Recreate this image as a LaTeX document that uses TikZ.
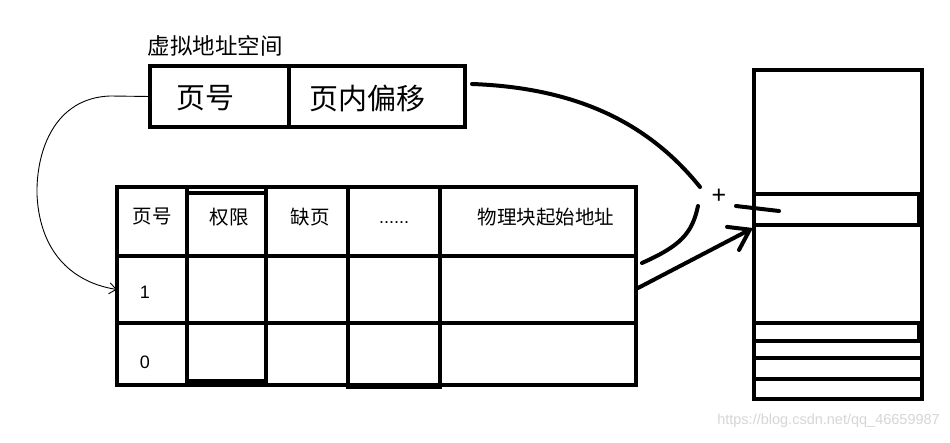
\documentclass[tikz,border=0pt]{standalone}
\usepackage{fontspec}
\newfontfamily\cjk{Noto Sans CJK SC}
\newfontfamily\arialf{Liberation Sans}
\usetikzlibrary{arrows.meta}
\definecolor{wmgrey}{HTML}{D6D6D6}
\tikzset{
  cellbox/.style={draw=black, line width=4pt, inner sep=0pt, outer sep=0pt, fill=none},
  bigtext/.style={font=\cjk\fontsize{29}{31}\selectfont, inner sep=0pt},
  hdrtext/.style={font=\cjk\fontsize{19.5}{21}\selectfont, inner sep=0pt},
  numtext/.style={font=\arialf\fontsize{18}{20}\selectfont, inner sep=0pt},
  thickline/.style={line width=4pt, line cap=round},
  thinline/.style={line width=0.9pt},
}
\begin{document}
\begin{tikzpicture}[x=1pt,y=-1pt]
\useasboundingbox (0,0) rectangle (950,443);
\fill[white] (0,0) rectangle (950,443);

% title
\node[font=\cjk\fontsize{22.5}{24}\selectfont, inner sep=0pt] (title) at (215,46) {虚拟地址空间};

% virtual address box
\node[cellbox, minimum width=139pt, minimum height=61pt] (vpn) at (219.5,96.5) {};
\node[cellbox, minimum width=176pt, minimum height=61pt] (off) at (377,96.5) {};
\node[bigtext] (vpnt) at (205,98) {页号};
\node[bigtext] (offt) at (367,98) {页内偏移};

% page table cells
\node[cellbox, minimum width=69.5pt, minimum height=69pt] (c01) at (151.75,221.5) {};
\node[cellbox, minimum width=79.5pt, minimum height=69pt] (c02) at (226.25,221.5) {};
\node[cellbox, minimum width=82pt,   minimum height=69pt] (c03) at (307,221.5) {};
\node[cellbox, minimum width=92pt,   minimum height=69pt] (c04) at (394,221.5) {};
\node[cellbox, minimum width=196pt,  minimum height=69pt] (c05) at (538,221.5) {};

\node[cellbox, minimum width=69.5pt, minimum height=67pt] (c11) at (151.75,289.5) {};
\node[cellbox, minimum width=79.5pt, minimum height=67pt] (c12) at (226.25,289.5) {};
\node[cellbox, minimum width=82pt,   minimum height=67pt] (c13) at (307,289.5) {};
\node[cellbox, minimum width=92pt,   minimum height=67pt] (c14) at (394,289.5) {};
\node[cellbox, minimum width=196pt,  minimum height=67pt] (c15) at (538,289.5) {};

\node[cellbox, minimum width=69.5pt, minimum height=62pt] (c21) at (151.75,354) {};
\node[cellbox, minimum width=79.5pt, minimum height=62pt] (c22) at (226.25,354) {};
\node[cellbox, minimum width=82pt,   minimum height=62pt] (c23) at (307,354) {};
\node[cellbox, minimum width=92pt,   minimum height=62pt] (c24) at (394,354) {};
\node[cellbox, minimum width=196pt,  minimum height=62pt] (c25) at (538,354) {};

% hand-drawn column boxes
\node[cellbox, minimum width=79.5pt, minimum height=188pt] (col2) at (226.25,287) {};
\node[cellbox, minimum width=92pt,   minimum height=200pt] (col4) at (394,287) {};

% header texts
\node[hdrtext] (h1) at (152,217) {页号};
\node[hdrtext] (h2) at (229,217) {权限};
\node[hdrtext] (h3) at (310,217) {缺页};
\node[numtext, anchor=base] (h4) at (394,224) {......};
\node[hdrtext] (h5) at (546,217) {物理块起始地址};
\node[numtext] (n1) at (145,292) {1};
\node[numtext] (n0) at (145,362) {0};

% physical memory
\node[cellbox, minimum width=168pt, minimum height=329pt] (mem) at (838,234.5) {};
\node[cellbox, minimum width=165pt, minimum height=30.5pt] (band) at (836.5,209.75) {};
\node[cellbox, minimum width=165pt, minimum height=18pt] (band2) at (836.5,332) {};
\coordinate (l3a) at (754,358);
\coordinate (l3b) at (922,358);
\coordinate (l4a) at (754,378.5);
\coordinate (l4b) at (922,378.5);
\draw[line width=4pt] (l3a) -- (l3b);
\draw[line width=4pt] (l4a) -- (l4b);

% connector: page number -> page table entry 1
\coordinate (v1) at (110,96);
\draw[thinline, -{Straight Barb[length=7pt,width=11pt]}]
  (vpn.west) -- (v1) .. controls (55,98) and (36,150) .. (37,195)
  .. controls (40,255) and (75,283) .. (c11.west);

% connector: offset -> adder
\coordinate (s1) at (472,84);
\coordinate (p1) at (700,187);
\draw[thickline] (s1) .. controls (580,88) and (650,125) .. (p1);

% connector: entry -> adder
\coordinate (p2) at (698,206);
\coordinate (p3) at (642,263);
\draw[thickline] (p2) .. controls (692,234) and (680,246) .. (p3);

% plus sign
\node[font=\arialf\fontsize{25}{26}\selectfont, inner sep=0pt] (plus) at (719,196) {+};

% connector: adder -> memory
\coordinate (q1) at (638,288);
\coordinate (q2) at (753,228);
\draw[line width=4pt, line cap=round, -{Straight Barb[length=19pt,width=26pt,line cap=round]}] (q1) -- (q2);
\coordinate (r1) at (736,206);
\coordinate (r2) at (779,211);
\draw[thickline] (r1) -- (r2);

% watermark
\node[font=\arialf\fontsize{14.5}{16}\selectfont, text=wmgrey, inner sep=0pt, anchor=east] (wm) at (940,421) {https://blog.csdn.net/qq\_46659987};
\end{tikzpicture}
\end{document}
